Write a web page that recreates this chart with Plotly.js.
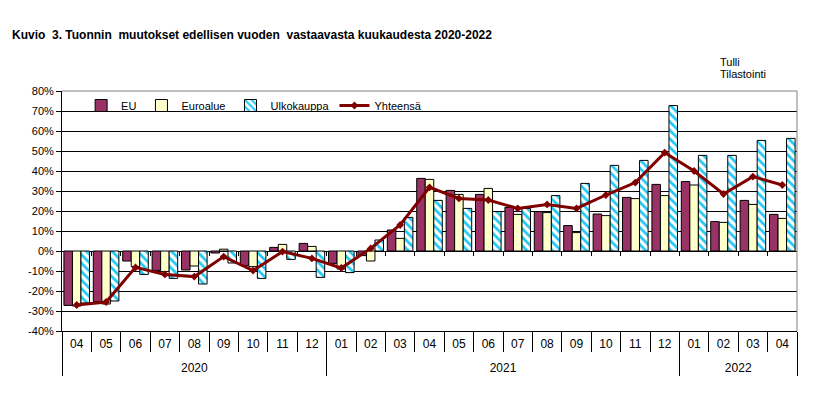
<!DOCTYPE html>
<html><head><meta charset="utf-8">
<script src="https://cdn.plot.ly/plotly-3.0.1.min.js"></script>
<style>body{margin:0;background:#fff}#c{width:832px;height:416px}</style>
</head><body><div id="c"></div>
<script>
const years = ['2020','2020','2020','2020','2020','2020','2020','2020','2020',
  '2021','2021','2021','2021','2021','2021','2021','2021','2021','2021','2021','2021',
  '2022','2022','2022','2022'];
const months = ['04','05','06','07','08','09','10','11','12',
  '01','02','03','04','05','06','07','08','09','10','11','12',
  '01','02','03','04'];
const eu = [-27.2,-25.3,-5,-9.7,-9.5,-1,-7.3,1.8,3.8,
  -6.2,-2.3,10.5,36.3,30.3,28.3,21.8,19.7,12.7,18.5,26.8,33.3,
  34.7,14.7,25.3,18.3];
const euroalue = [-27.5,-26.5,-7.8,-10.3,-7.5,0.9,-7.8,3.3,2.3,
  -9,-5,6.3,35.8,28.3,31.3,18.3,19.2,9.2,17.7,26.2,27.7,
  33,14.3,23.3,16.3];
const ulkokauppa = [-26,-25,-11.7,-13.7,-16.5,-6,-13.7,-4.2,-13.2,
  -10.8,5.5,16.8,25.3,21.3,19.7,21.3,27.7,33.8,42.8,45.3,72.7,
  47.8,47.8,55.3,56.3];
const yhteensa = [-27,-25.5,-8.2,-11.7,-12.8,-2.8,-9.8,-0.3,-3.7,
  -8.5,1.3,13,31.8,26.3,25.5,21.3,23.3,21.3,28,34.2,49.2,
  40,28.5,37.2,33];
const yTicks = [-40,-30,-20,-10,0,10,20,30,40,50,60,70,80];

// unique category keys, labelled by month on the axis
const cats = months.map((m,i)=>years[i]+'-'+m);
// year groups: centres and boundaries in category index units
const yearNames = [...new Set(years)];
const yearCentres = yearNames.map(y=>{const f=years.indexOf(y), l=years.lastIndexOf(y); return (f+l)/2;});
const yearBounds = [-0.5].concat(yearNames.map(y=>years.lastIndexOf(y)+0.5));
const monthBounds = months.slice(1).map((m,i)=>i+0.5);
const n = months.length;

const F = 'Liberation Sans, Arial, sans-serif';
const traces = [
  {type:'bar', name:'EU', x:cats, y:eu, marker:{color:'#993366', line:{color:'#000', width:1}}},
  {type:'bar', name:'Euroalue', x:cats, y:euroalue, marker:{color:'#FFFFCC', line:{color:'#000', width:1}}},
  {type:'bar', name:'Ulkokauppa', x:cats, y:ulkokauppa, marker:{color:'#fff', line:{color:'#000', width:1},
    pattern:{shape:'\\', fgcolor:'#1EC8F5', bgcolor:'#fff', size:6, solidity:0.45}}},
  {type:'scatter', mode:'lines+markers', name:'Yhteensä', x:cats, y:yhteensa,
    line:{color:'#800000', width:3}, marker:{symbol:'diamond', size:6, color:'#800000'}},
  {type:'scatter', x:[], y:[], xaxis:'x2', showlegend:false, hoverinfo:'skip'},
  {type:'scatter', x:[], y:[], xaxis:'x3', showlegend:false, hoverinfo:'skip'},
  {type:'scatter', x:[], y:[], xaxis:'x4', showlegend:false, hoverinfo:'skip'}
];
const layout = {
  width:832, height:416,
  margin:{l:62, r:35, t:91, b:85},
  paper_bgcolor:'#fff', plot_bgcolor:'#fff',
  font:{family:F, size:11, color:'#000'},
  title:{text:'<b>Kuvio  3. Tuonnin  muutokset edellisen vuoden  vastaavasta kuukaudesta 2020-2022</b>',
    font:{family:F, size:12, color:'#000'}, x:12/832, xanchor:'left', y:1-35/416, yanchor:'middle'},
  barmode:'group', bargap:0.13, bargroupgap:0,
  showlegend:true,
  legend:{orientation:'h', x:0.026, xanchor:'left', y:1, yanchor:'top', bgcolor:'rgba(0,0,0,0)',
    font:{family:F, size:11}, traceorder:'normal', itemwidth:30},
  xaxis:{type:'category', categoryorder:'array', categoryarray:cats, range:[-0.5,n-0.5],
    tickmode:'array', tickvals:cats, ticktext:months,
    showgrid:false, showline:true, linecolor:'#000', linewidth:1,
    ticks:'outside', tickson:'boundaries', ticklen:20, tickcolor:'#000', ticklabelstandoff:2,
    tickfont:{family:F, size:12, color:'#000'}, zeroline:false},
  xaxis2:{type:'linear', overlaying:'x', anchor:'y', side:'bottom', range:[-0.5,n-0.5],
    tickmode:'array', tickvals:yearCentres, ticktext:yearNames, ticks:'', ticklabelstandoff:28,
    tickfont:{family:F, size:12, color:'#000'}, showgrid:false, showline:false, zeroline:false},
  xaxis3:{type:'linear', overlaying:'x', anchor:'y', side:'bottom', range:[-0.5,n-0.5],
    tickmode:'array', tickvals:yearBounds, ticks:'outside', ticklen:44, tickcolor:'#000',
    showticklabels:false, showgrid:false, showline:false, zeroline:false},
  xaxis4:{type:'linear', overlaying:'x', anchor:'free', position:1/3, range:[-0.5,n-0.5],
    tickmode:'array', tickvals:monthBounds, ticks:'outside', ticklen:4,
    tickcolor:'#000', showticklabels:false, showgrid:false, showline:false, zeroline:false},
  yaxis:{range:[-40,80], tickmode:'array', tickvals:yTicks, ticktext:yTicks.map(v=>v+'%'),
    showgrid:true, gridcolor:'#000', gridwidth:1, zeroline:false,
    showline:true, linecolor:'#000', linewidth:1, ticks:'outside', ticklen:5, tickcolor:'#000',
    tickfont:{family:F, size:11, color:'#000'}},
  shapes:[
    {type:'line', xref:'paper', yref:'paper', x0:0, x1:1, y0:1, y1:1, line:{color:'#808080', width:1}},
    {type:'line', xref:'paper', yref:'paper', x0:1, x1:1, y0:0, y1:1, line:{color:'#808080', width:1}}
  ],
  annotations:[
    {text:'Tulli', xref:'paper', yref:'paper', x:(718-62)/735, y:(331-62)/240, xanchor:'left', yanchor:'middle', showarrow:false, font:{family:F, size:11}},
    {text:'Tilastointi', xref:'paper', yref:'paper', x:(718-62)/735, y:(331-74)/240, xanchor:'left', yanchor:'middle', showarrow:false, font:{family:F, size:11}}
  ]
};
Plotly.newPlot('c', traces, layout, {displayModeBar:false, staticPlot:true});
</script></body></html>
